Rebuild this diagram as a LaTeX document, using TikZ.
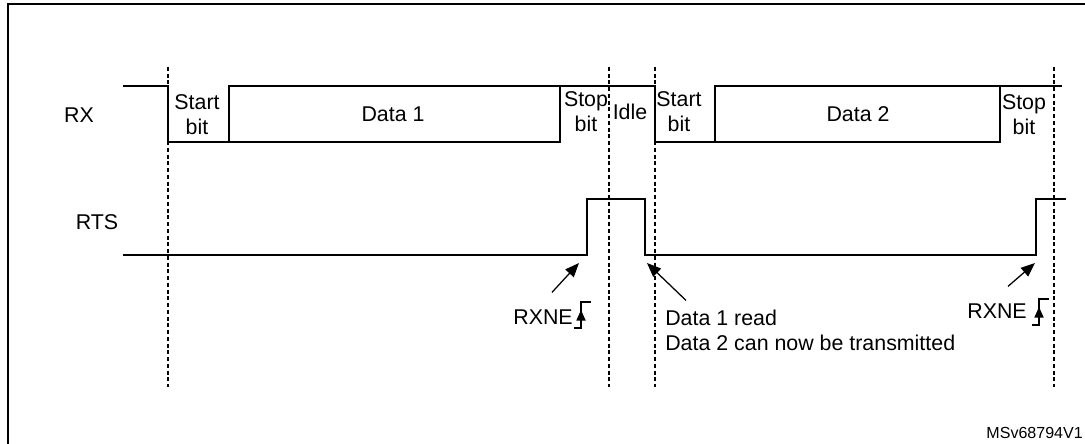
\documentclass[tikz,border=0pt]{standalone}
\usepackage{fontspec}
\setmainfont{Liberation Sans}
\usetikzlibrary{arrows.meta,positioning}

\begin{document}
\begin{tikzpicture}[x=0.025cm,y=-0.025cm]
  \tikzset{
    sig/.style={line width=1.2pt},
    grid/.style={line width=0.9pt,dash pattern=on 2.8pt off 2pt},
    ptr/.style={-{Triangle[length=10pt,width=8pt]},line width=0.9pt},
    lbl/.style={font=\fontsize{15.2}{17.7}\selectfont,inner sep=0pt,align=center},
    rise/.pic={
      \draw[line width=0.9pt] (0,0) -- (7,0) -- (7,-26) -- (17,-26);
      \draw[-{Triangle[length=7.5pt,width=6.5pt]},line width=0.9pt] (7,-4) -- (7,-18);
    }
  }
  \clip (0,0) rectangle (1085,444);
  \draw[line width=1.8pt] (8,4) rectangle (1200,600);

  \node[lbl] (rx) at (79,115) {RX};
  \node[lbl] (rts) at (97,222) {RTS};

  % RX line
  \draw[sig] (123,86) -| (168,142) -- (560,142) -- (560,86);
  \draw[sig] (229,142) -- (229,86) -- (655,86) -- (655,142) -- (1000,142) -- (1000,86);
  \draw[sig] (715,142) -- (715,86) -- (1062,86);

  % RTS line
  \draw[sig] (123,255) -| (587,199) -| (645,255) -| (1036,199) -- (1066,199);

  \foreach \x in {168,609,655,1054}
    \draw[grid] (\x,67) -- (\x,387);

  \node[lbl] (start1) at (197,115) {Start\\bit};
  \node[lbl] (data1) at (393,114) {Data 1};
  \node[lbl] (stop1) at (586,112) {Stop\\bit};
  \node[lbl] (idle) at (630,112) {Idle};
  \node[lbl] (start2) at (679,112) {Start\\bit};
  \node[lbl] (data2) at (858,114) {Data 2};
  \node[lbl] (stop2) at (1024,115) {Stop\\bit};

  \coordinate (up1) at (579,263);
  \coordinate (down) at (647,263);
  \coordinate (up2) at (1035,263);

  \node[lbl,anchor=east] (rxne1) at (573,317) {RXNE};
  \node[lbl,anchor=east] (rxne2) at (1027,311) {RXNE};
  \node[lbl,anchor=west,align=left] (read) at (665,330)
    {Data 1 read\\Data 2 can now be transmitted};

  \draw[ptr] ([shift={(-21,-17)}]rxne1.north east) -- (up1);
  \draw[ptr] ([shift={(-19,-17)}]rxne2.north east) -- (up2);
  \draw[ptr] ([shift={(21,-9)}]read.north west) -- (down);

  \pic at (574,328) {rise};
  \pic at (1032,325) {rise};

  \node[font=\fontsize{11.4}{13}\selectfont,inner sep=0pt,anchor=east] (tag) at (1083,433) {MSv68794V1};
\end{tikzpicture}
\end{document}
